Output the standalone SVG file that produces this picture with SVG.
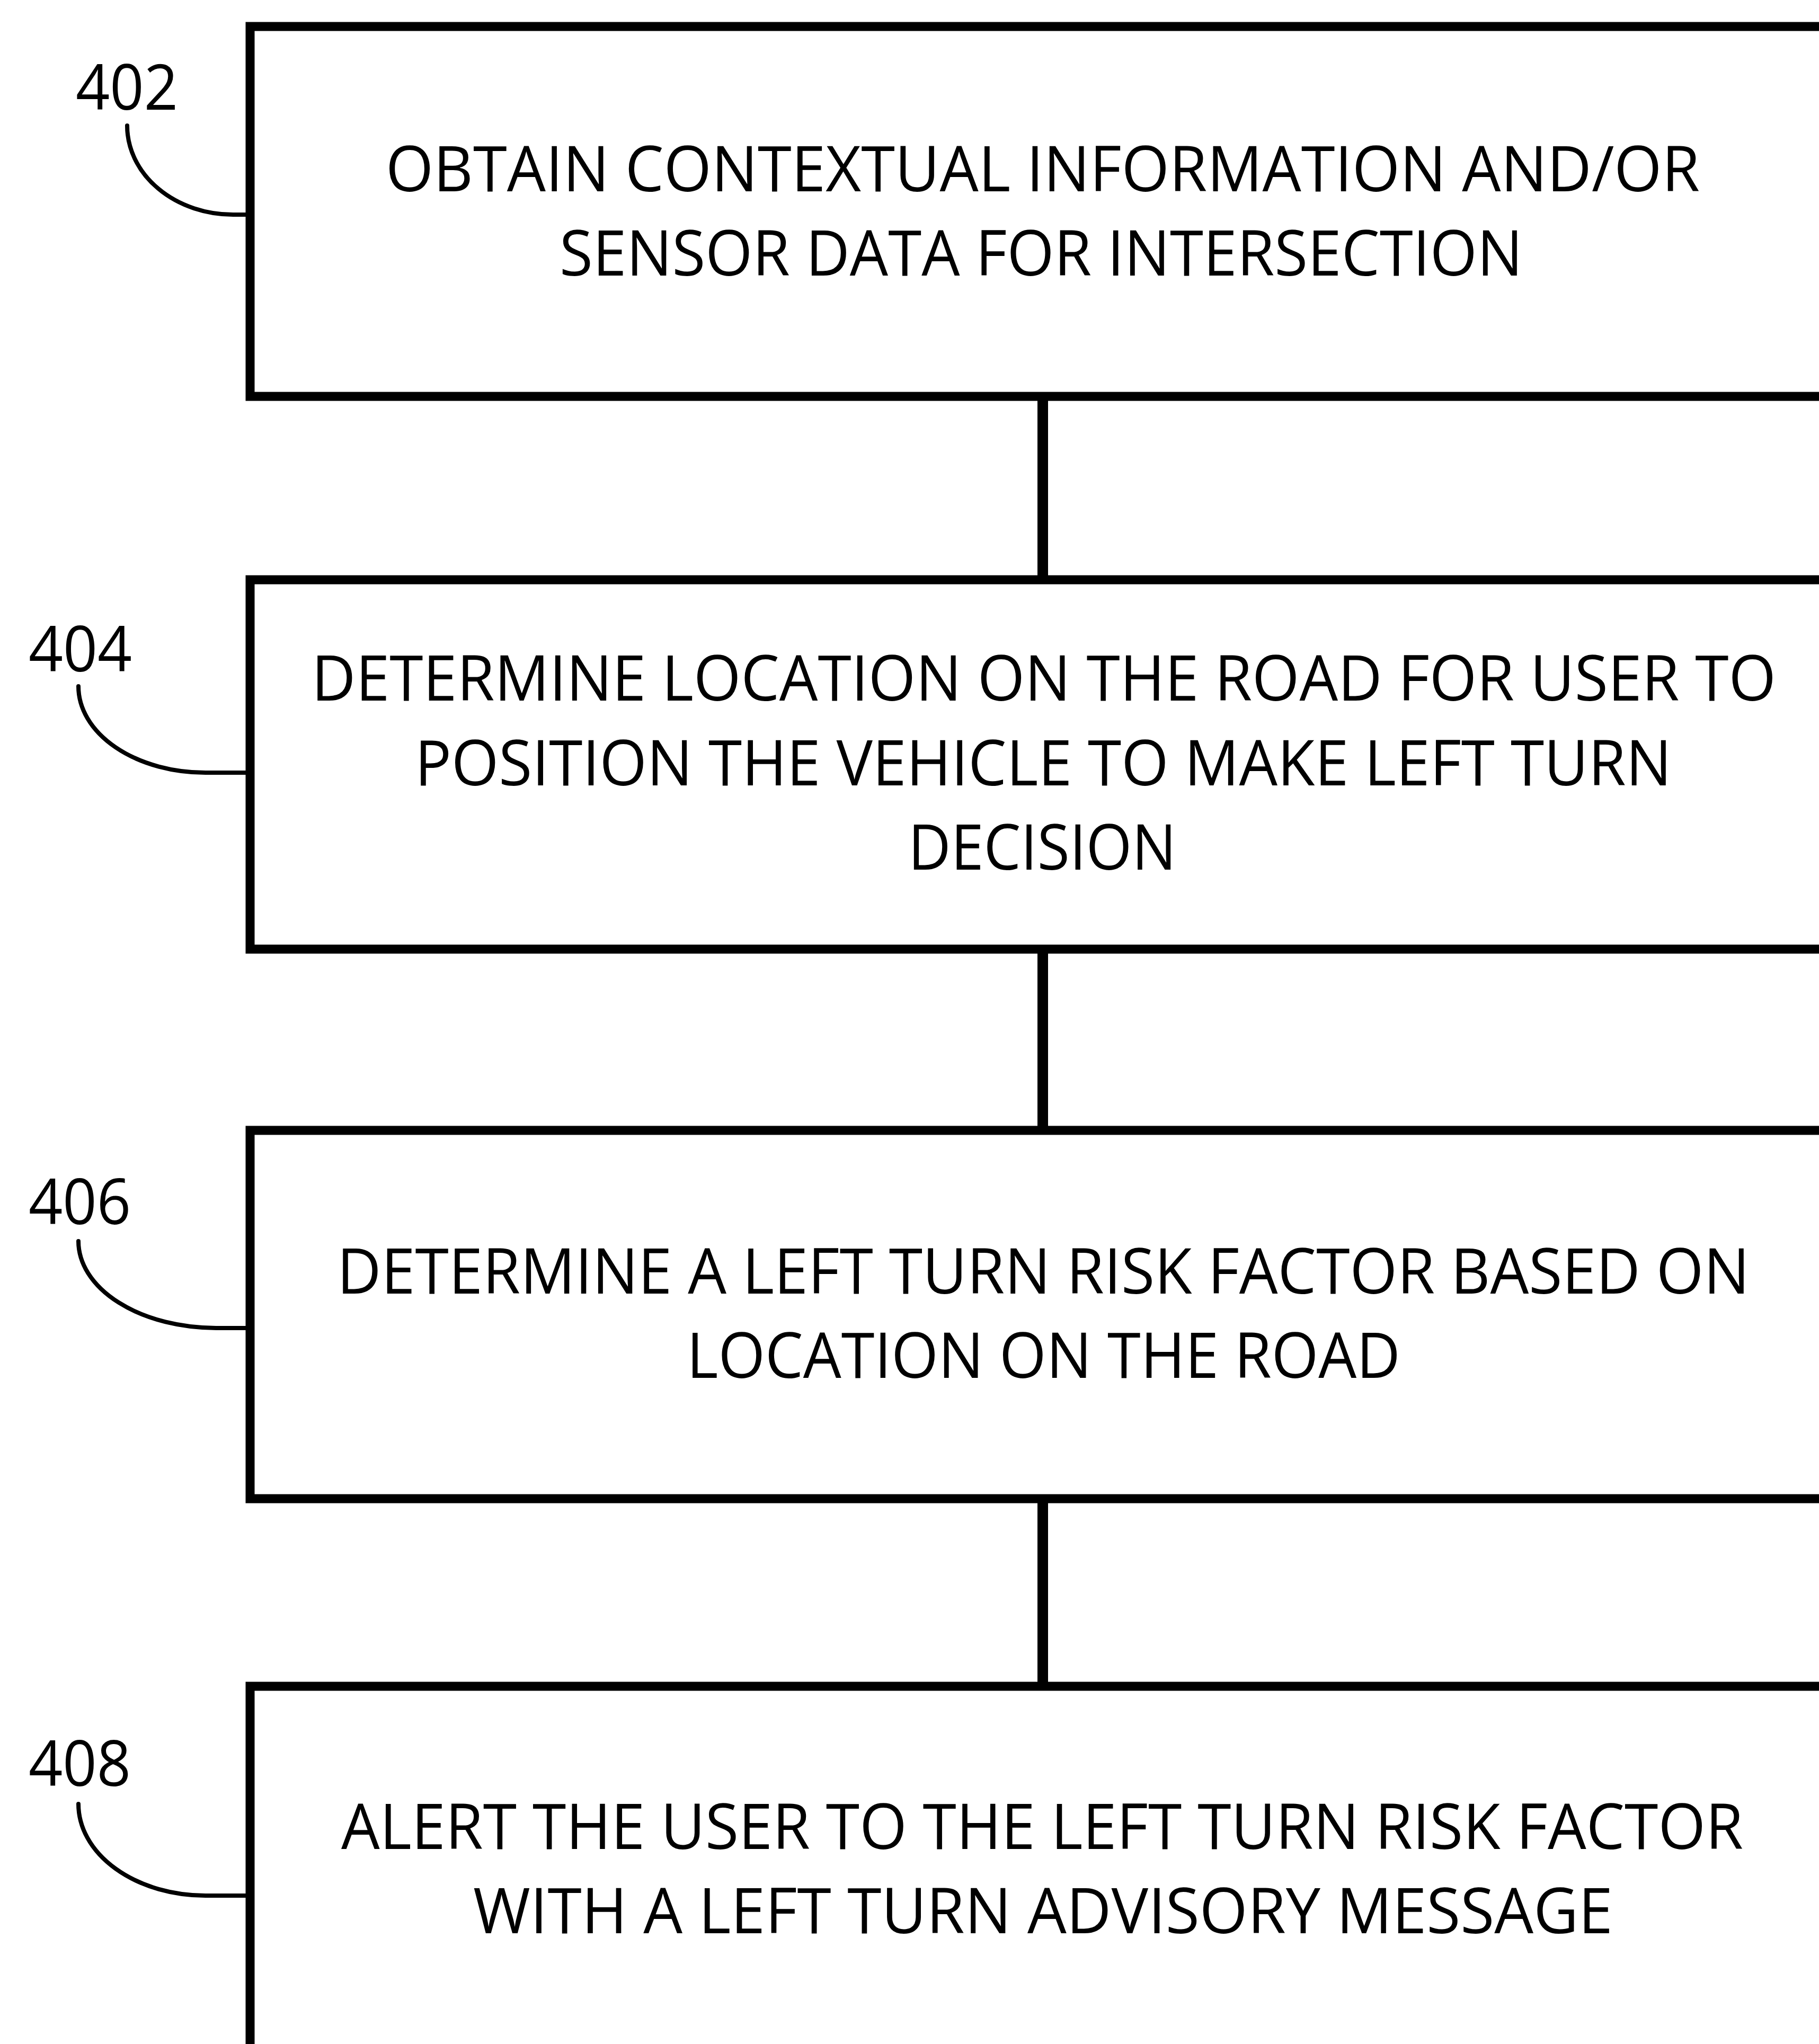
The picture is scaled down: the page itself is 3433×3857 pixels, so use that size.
<svg xmlns="http://www.w3.org/2000/svg" width="3433" height="3857" viewBox="0 0 3433 3857">
  <style>
    .box { fill: #ffffff; stroke: #000000; stroke-width: 17; }
    .conn { stroke: #000000; stroke-width: 20; fill: none; }
    .lead { stroke: #000000; stroke-width: 8; fill: none; stroke-linecap: round; }
    .txt { font-family: "Open Sans", "Noto Sans", "Liberation Sans", sans-serif; font-size: 119px; fill: #000000; }
    .ref { font-family: "Open Sans", "Noto Sans", "Liberation Sans", sans-serif; font-size: 119px; fill: #000000; }
  </style>
  <rect x="0" y="0" width="3433" height="3857" fill="#ffffff"/>

  <!-- flow connectors between steps -->
  <g id="connectors">
    <line class="conn" x1="1968" y1="748" x2="1968" y2="1094"/>
    <line class="conn" x1="1968" y1="1791" x2="1968" y2="2133"/>
    <line class="conn" x1="1968" y1="2828" x2="1968" y2="3182"/>
  </g>

  <!-- step 402 -->
  <g id="step402">
    <rect class="box" x="472" y="50" width="2995" height="698"/>
    <text class="txt" x="728" y="361" textLength="2480" lengthAdjust="spacingAndGlyphs">OBTAIN CONTEXTUAL INFORMATION AND/OR</text>
    <text class="txt" x="1056" y="520" textLength="1818" lengthAdjust="spacingAndGlyphs">SENSOR DATA FOR INTERSECTION</text>
    <text class="ref" x="143" y="207" textLength="193" lengthAdjust="spacingAndGlyphs">402</text>
    <path class="lead" d="M240,237 A200,168 0 0 0 440,405 L466,405"/>
  </g>

  <!-- step 404 -->
  <g id="step404">
    <rect class="box" x="472" y="1094" width="2995" height="697"/>
    <text class="txt" x="588" y="1322" textLength="2764" lengthAdjust="spacingAndGlyphs">DETERMINE LOCATION ON THE ROAD FOR USER TO</text>
    <text class="txt" x="783" y="1482" textLength="2372" lengthAdjust="spacingAndGlyphs">POSITION THE VEHICLE TO MAKE LEFT TURN</text>
    <text class="txt" x="1714" y="1641" textLength="506" lengthAdjust="spacingAndGlyphs">DECISION</text>
    <text class="ref" x="54" y="1267" textLength="195" lengthAdjust="spacingAndGlyphs">404</text>
    <path class="lead" d="M148,1295 A240,163 0 0 0 388,1458 L466,1458"/>
  </g>

  <!-- step 406 -->
  <g id="step406">
    <rect class="box" x="472" y="2133" width="2995" height="695"/>
    <text class="txt" x="636" y="2441" textLength="2666" lengthAdjust="spacingAndGlyphs">DETERMINE A LEFT TURN RISK FACTOR BASED ON</text>
    <text class="txt" x="1296" y="2600" textLength="1347" lengthAdjust="spacingAndGlyphs">LOCATION ON THE ROAD</text>
    <text class="ref" x="54" y="2310" textLength="193" lengthAdjust="spacingAndGlyphs">406</text>
    <path class="lead" d="M148,2342 A260,164 0 0 0 408,2506 L466,2506"/>
  </g>

  <!-- step 408 -->
  <g id="step408">
    <rect class="box" x="472" y="3182" width="2995" height="760"/>
    <text class="txt" x="644" y="3489" textLength="2646" lengthAdjust="spacingAndGlyphs">ALERT THE USER TO THE LEFT TURN RISK FACTOR</text>
    <text class="txt" x="893" y="3648" textLength="2151" lengthAdjust="spacingAndGlyphs">WITH A LEFT TURN ADVISORY MESSAGE</text>
    <text class="ref" x="54" y="3370" textLength="193" lengthAdjust="spacingAndGlyphs">408</text>
    <path class="lead" d="M148,3404 A240,173 0 0 0 388,3577 L466,3577"/>
  </g>
</svg>
